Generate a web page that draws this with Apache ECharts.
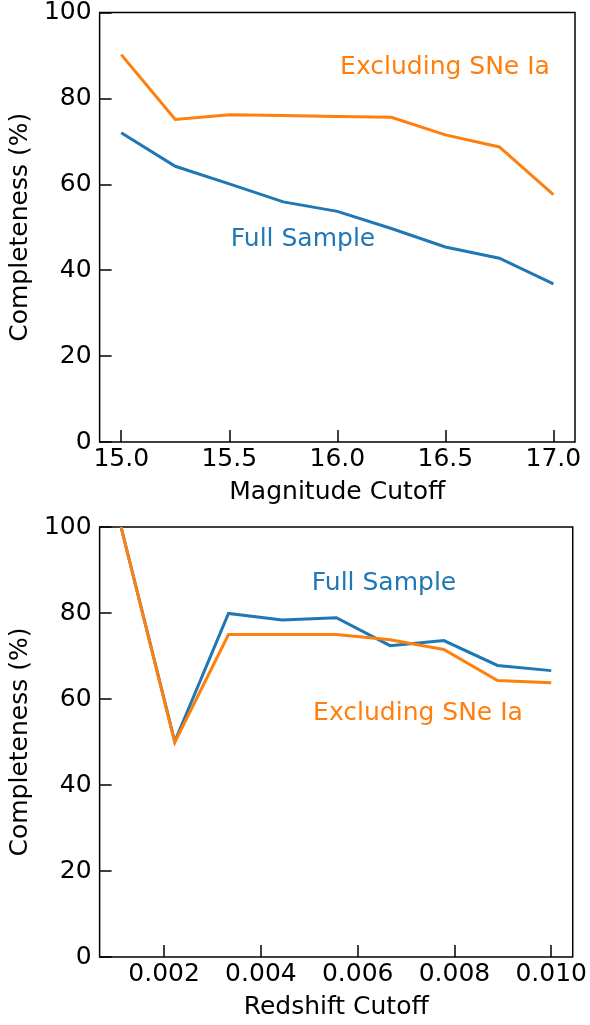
<!DOCTYPE html>
<html>
<head>
<meta charset="utf-8">
<script src="https://cdn.jsdelivr.net/npm/echarts@6/dist/echarts.min.js"></script>
<style>
  html, body { margin: 0; padding: 0; background: #fff; }
  #chart { width: 590px; height: 1025px; }
</style>
</head>
<body>
<div id="chart"></div>
<script>
// top panel: completeness vs magnitude cutoff
const magCutoff = [15.0, 15.25, 15.5, 15.75, 16.0, 16.25, 16.5, 16.75, 17.0]
const magFull = [72.0, 64.2, 60.1, 55.9, 53.7, 49.7, 45.4, 42.8, 36.8]
const magNoIa = [90.2, 75.1, 76.2, 76.0, 75.8, 75.6, 71.5, 68.7, 57.6]
const magTicks = [15.0, 15.5, 16.0, 16.5, 17.0]

// bottom panel: completeness vs redshift cutoff
const zCutoff = [0.00111, 0.00222, 0.00333, 0.00444, 0.00556, 0.00667, 0.00778, 0.00889, 0.01]
const zFull = [100, 50.1, 79.9, 78.4, 78.9, 72.4, 73.6, 67.8, 66.6]
const zNoIa = [100, 49.9, 75.0, 75.0, 75.0, 73.8, 71.5, 64.3, 63.8]
const zTicks = [0.002, 0.004, 0.006, 0.008, 0.010]

const BLUE = '#1f77b4'
const ORANGE = '#ff7f0e'
const FONT = 'DejaVu Sans'
const FS = 25

const pairs = (xs, ys) => xs.map((x, i) => [x, ys[i]])

const xAxisBase = (gridIndex, name, min, max, ticks, digits) => ({
    type: 'value',
    gridIndex,
    min,
    max,
    name,
    nameLocation: 'middle',
    nameGap: 38,
    nameTextStyle: { color: '#000', fontFamily: FONT, fontSize: FS },
    splitLine: { show: false },
    axisLine: { show: false },
    axisTick: {
        inside: true, length: 12, customValues: ticks,
        lineStyle: { color: '#000', width: 1.5 }
    },
    axisLabel: {
        customValues: ticks, margin: 5,
        color: '#000', fontFamily: FONT, fontSize: FS,
        formatter: v => Number(v).toFixed(digits)
    }
})

const yAxisBase = (gridIndex) => ({
    type: 'value',
    gridIndex,
    min: 0,
    max: 100,
    interval: 20,
    name: 'Completeness (%)',
    nameLocation: 'middle',
    nameGap: 65,
    nameTextStyle: { color: '#000', fontFamily: FONT, fontSize: FS },
    splitLine: { show: false },
    axisLine: { show: false },
    axisTick: { inside: true, length: 12, lineStyle: { color: '#000', width: 1.5 } },
    axisLabel: { margin: 8, color: '#000', fontFamily: FONT, fontSize: FS }
})

const line = (xAxisIndex, yAxisIndex, data, color) => ({
    type: 'line',
    xAxisIndex,
    yAxisIndex,
    data,
    showSymbol: false,
    silent: true,
    animation: false,
    lineStyle: { color, width: 3, join: 'miter' }
})

const note = (text, x, y, color) => ({
    type: 'text',
    x, y,
    style: {
        text, fill: color, font: `${FS}px "${FONT}"`,
        align: 'center', verticalAlign: 'middle'
    }
})

const option = {
    backgroundColor: '#fff',
    animation: false,
    grid: [
        { left: 99, top: 12, width: 476, height: 430, show: true, borderColor: '#000', borderWidth: 1.5 },
        { left: 99, top: 527, width: 476, height: 430, show: true, borderColor: '#000', borderWidth: 1.5 }
    ],
    xAxis: [
        xAxisBase(0, 'Magnitude Cutoff', 14.9, 17.1, magTicks, 1),
        xAxisBase(1, 'Redshift Cutoff', 0.000667, 0.010444, zTicks, 3)
    ],
    yAxis: [yAxisBase(0), yAxisBase(1)],
    series: [
        line(0, 0, pairs(magCutoff, magFull), BLUE),
        line(0, 0, pairs(magCutoff, magNoIa), ORANGE),
        line(1, 1, pairs(zCutoff, zFull), BLUE),
        line(1, 1, pairs(zCutoff, zNoIa), ORANGE)
    ],
    graphic: [
        note('Excluding SNe Ia', 445, 67, ORANGE),
        note('Full Sample', 303, 239, BLUE),
        note('Full Sample', 384, 583, BLUE),
        note('Excluding SNe Ia', 418, 713, ORANGE)
    ]
}

const chart = echarts.init(document.getElementById('chart'), null, { renderer: 'canvas' })
chart.setOption(option)
</script>
</body>
</html>
